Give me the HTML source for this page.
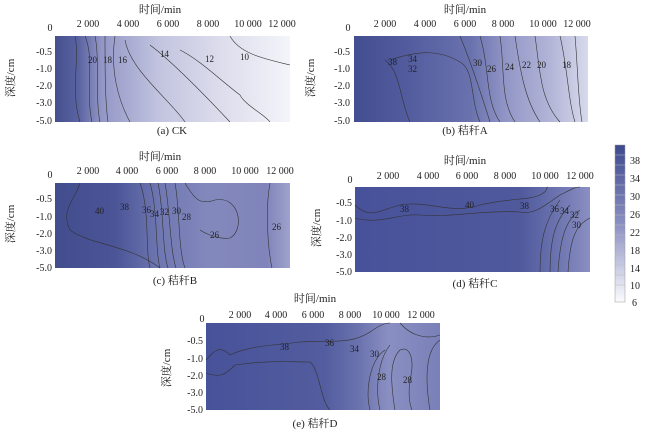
<!DOCTYPE html>
<html><head><meta charset="utf-8"><style>
body{margin:0;background:#fff}
svg{display:block}
text{font-family:"Liberation Serif","Noto Serif CJK SC",serif;fill:#222}
.t{font-size:10px}
.ti{font-size:11px}
.cl{fill:none;stroke:#333;stroke-width:0.6}
.lb{font-size:9px}
</style></head><body>
<svg width="650" height="433" viewBox="0 0 650 433">
<defs>
<linearGradient id="ga" x1="0" x2="1" y1="0" y2="0">
<stop offset="0" stop-color="#45508f"/><stop offset="0.1" stop-color="#5a63a2"/><stop offset="0.2" stop-color="#9397c6"/><stop offset="0.45" stop-color="#c3c5e0"/><stop offset="0.7" stop-color="#dcdcec"/><stop offset="1" stop-color="#f4f4fa"/></linearGradient>
<linearGradient id="gb" x1="0" x2="1" y1="0" y2="0">
<stop offset="0" stop-color="#434e90"/><stop offset="0.2" stop-color="#505a9c"/><stop offset="0.5" stop-color="#6a72ae"/><stop offset="0.65" stop-color="#9296c6"/><stop offset="0.85" stop-color="#b4b7d8"/><stop offset="1" stop-color="#d8d9ec"/></linearGradient>
<linearGradient id="gc" x1="0" x2="1" y1="0" y2="0">
<stop offset="0" stop-color="#424d8e"/><stop offset="0.25" stop-color="#4a5496"/><stop offset="0.45" stop-color="#7078b2"/><stop offset="0.65" stop-color="#8388bc"/><stop offset="0.9" stop-color="#8084ba"/><stop offset="1" stop-color="#9ea2cc"/></linearGradient>
<linearGradient id="gd" x1="0" x2="1" y1="0" y2="0">
<stop offset="0" stop-color="#48529a"/><stop offset="0.7" stop-color="#4f599c"/><stop offset="0.85" stop-color="#6a72ae"/><stop offset="1" stop-color="#8a8fc2"/></linearGradient>
<linearGradient id="ge" x1="0" x2="1" y1="0" y2="0">
<stop offset="0" stop-color="#48529a"/><stop offset="0.5" stop-color="#525c9e"/><stop offset="0.65" stop-color="#6a72ae"/><stop offset="0.78" stop-color="#8a8fc2"/><stop offset="1" stop-color="#7a80b8"/></linearGradient>
<linearGradient id="cb" x1="0" x2="0" y1="0" y2="1">
<stop offset="0" stop-color="#3e4a8e"/><stop offset="0.5" stop-color="#8a8fc2"/><stop offset="1" stop-color="#fbfbfe"/></linearGradient>
</defs>

<text class="ti" x="160" y="13" text-anchor="middle">时间/min</text>
<g class="t" text-anchor="middle"><text x="50" y="31">0</text><text x="88" y="27">2 000</text><text x="128" y="27">4 000</text><text x="168" y="27">6 000</text><text x="208" y="27">8 000</text><text x="248" y="27">10 000</text><text x="282" y="27">12 000</text></g>
<g class="t" text-anchor="end"><text x="52" y="55">-0.5</text><text x="52" y="72">-1.0</text><text x="52" y="89">-2.0</text><text x="52" y="106">-3.0</text><text x="52" y="124">-5.0</text></g>
<text class="ti" transform="translate(14,78) rotate(-90)" text-anchor="middle">深度/cm</text>
<rect x="55" y="36" width="235" height="86" fill="url(#ga)"/>
<g class="cl"><path d="M75 36 C80 60 70 90 80 122"/><path d="M85 36 C95 60 85 90 92 122"/><path d="M95 36 C100 60 95 100 100 122"/><path d="M105 36 C105 70 105 100 108 122"/><path d="M115 36 C110 70 118 100 130 122"/><path d="M125 40 C130 70 170 100 185 122"/><path d="M150 45 C170 60 200 90 230 122"/><path d="M180 50 C200 60 220 80 240 95 C245 105 265 115 270 122"/><path d="M230 36 C240 55 270 60 290 65"/></g>
<g class="lb"><text x="88" y="63">20</text><text x="103" y="63">18</text><text x="118" y="63">16</text><text x="160" y="57">14</text><text x="205" y="62">12</text><text x="240" y="60">10</text></g>
<text class="ti" x="172" y="134" text-anchor="middle">(a) CK</text>

<text class="ti" x="465" y="13" text-anchor="middle">时间/min</text>
<g class="t" text-anchor="middle"><text x="348" y="31">0</text><text x="385" y="27">2 000</text><text x="425" y="27">4 000</text><text x="465" y="27">6 000</text><text x="503" y="27">8 000</text><text x="543" y="27">10 000</text><text x="577" y="27">12 000</text></g>
<g class="t" text-anchor="end"><text x="350" y="55">-0.5</text><text x="350" y="72">-1.0</text><text x="350" y="89">-2.0</text><text x="350" y="106">-3.0</text><text x="350" y="124">-5.0</text></g>
<text class="ti" transform="translate(314,78) rotate(-90)" text-anchor="middle">深度/cm</text>
<rect x="354" y="36" width="234" height="86" fill="url(#gb)"/>
<g class="cl"><path d="M385 60 C400 70 400 100 410 122"/><path d="M390 60 C420 50 440 50 460 62 C475 70 470 100 480 122"/><path d="M460 36 C470 60 480 90 490 122"/><path d="M480 36 C490 70 485 100 500 122"/><path d="M500 36 C505 70 500 100 515 122"/><path d="M515 36 C520 70 525 100 540 122"/><path d="M535 36 C540 70 540 100 560 122"/><path d="M560 36 C568 70 568 100 575 122"/><path d="M575 36 C578 70 578 100 582 122"/></g>
<g class="lb"><text x="388" y="65">38</text><text x="408" y="62">34</text><text x="408" y="72">32</text><text x="473" y="66">30</text><text x="487" y="72">26</text><text x="505" y="70">24</text><text x="522" y="68">22</text><text x="537" y="68">20</text><text x="562" y="68">18</text></g>
<text class="ti" x="465" y="134" text-anchor="middle">(b) 秸秆A</text>

<text class="ti" x="160" y="160" text-anchor="middle">时间/min</text>
<g class="t" text-anchor="middle"><text x="50" y="178">0</text><text x="88" y="174">2 000</text><text x="127" y="174">4 000</text><text x="167" y="174">6 000</text><text x="205" y="174">8 000</text><text x="245" y="174">10 000</text><text x="280" y="174">12 000</text></g>
<g class="t" text-anchor="end"><text x="52" y="202">-0.5</text><text x="52" y="220">-1.0</text><text x="52" y="237">-2.0</text><text x="52" y="254">-3.0</text><text x="52" y="271">-5.0</text></g>
<text class="ti" transform="translate(14,224) rotate(-90)" text-anchor="middle">深度/cm</text>
<rect x="55" y="183" width="235" height="85" fill="url(#gc)"/>
<g class="cl"><path d="M80 183 C75 200 60 210 70 230 C90 245 130 245 160 268"/><path d="M140 183 C150 210 145 250 150 268"/><path d="M150 183 C158 210 155 250 160 268"/><path d="M158 183 C164 210 162 250 168 268"/><path d="M165 183 C170 210 170 250 176 268"/><path d="M175 183 C180 210 178 250 185 268"/><path d="M185 183 C195 200 200 205 215 200 C240 195 245 230 230 238 C215 240 200 230 200 230"/><path d="M270 183 C265 210 268 250 272 268"/></g>
<g class="lb"><text x="95" y="214">40</text><text x="120" y="210">38</text><text x="142" y="213">36</text><text x="150" y="217">34</text><text x="160" y="215">32</text><text x="172" y="214">30</text><text x="182" y="220">28</text><text x="210" y="238">26</text><text x="272" y="230">26</text></g>
<text class="ti" x="175" y="284" text-anchor="middle">(c) 秸秆B</text>

<text class="ti" x="465" y="164" text-anchor="middle">时间/min</text>
<g class="t" text-anchor="middle"><text x="350" y="183">0</text><text x="388" y="179">2 000</text><text x="428" y="179">4 000</text><text x="467" y="179">6 000</text><text x="505" y="179">8 000</text><text x="545" y="179">10 000</text><text x="580" y="179">12 000</text></g>
<g class="t" text-anchor="end"><text x="352" y="206">-0.5</text><text x="352" y="224">-1.0</text><text x="352" y="241">-2.0</text><text x="352" y="258">-3.0</text><text x="352" y="275">-5.0</text></g>
<text class="ti" transform="translate(320,228) rotate(-90)" text-anchor="middle">深度/cm</text>
<rect x="355" y="187" width="235" height="85" fill="url(#gd)"/>
<g class="cl"><path d="M355 205 C370 220 380 210 400 205 C430 200 450 215 480 205 C510 198 530 200 540 195 C550 190 545 187 548 187"/><path d="M355 218 C380 225 400 213 420 215 C450 218 480 210 520 212 C535 215 545 205 560 195 C570 190 575 187 580 187"/><path d="M540 272 C540 240 545 220 560 200"/><path d="M550 272 C550 240 555 220 570 205"/><path d="M558 272 C560 240 565 220 580 210"/><path d="M568 272 C570 240 575 225 590 218"/></g>
<g class="lb"><text x="400" y="212">38</text><text x="465" y="208">40</text><text x="520" y="209">38</text><text x="550" y="212">36</text><text x="560" y="214">34</text><text x="570" y="218">32</text><text x="572" y="228">30</text></g>
<text class="ti" x="475" y="287" text-anchor="middle">(d) 秸秆C</text>

<text class="ti" x="315" y="302" text-anchor="middle">时间/min</text>
<g class="t" text-anchor="middle"><text x="202" y="322">0</text><text x="240" y="318">2 000</text><text x="276" y="318">4 000</text><text x="313" y="318">6 000</text><text x="350" y="318">8 000</text><text x="386" y="318">10 000</text><text x="421" y="318">12 000</text></g>
<g class="t" text-anchor="end"><text x="203" y="344">-0.5</text><text x="203" y="362">-1.0</text><text x="203" y="379">-2.0</text><text x="203" y="396">-3.0</text><text x="203" y="413">-5.0</text></g>
<text class="ti" transform="translate(170,368) rotate(-90)" text-anchor="middle">深度/cm</text>
<rect x="206" y="323" width="234" height="87" fill="url(#ge)"/>
<g class="cl"><path d="M206 360 C215 350 220 345 230 355 C250 345 280 345 300 342 C330 340 350 345 370 332 C380 325 385 323 390 323"/><path d="M206 373 C220 378 225 375 235 365 C270 360 290 362 310 362 C320 370 320 400 330 410"/><path d="M370 410 C365 390 370 360 385 350"/><path d="M380 410 C375 390 378 360 390 345"/><path d="M395 410 C390 380 390 360 400 350 C410 345 415 360 410 380 C408 395 410 405 412 410"/><path d="M400 323 C410 335 425 340 440 335"/><path d="M430 410 C425 380 425 350 440 340"/></g>
<g class="lb"><text x="280" y="350">38</text><text x="325" y="346">36</text><text x="350" y="352">34</text><text x="370" y="357">30</text><text x="377" y="380">28</text><text x="403" y="383">28</text></g>
<text class="ti" x="315" y="427" text-anchor="middle">(e) 秸秆D</text>

<rect x="615" y="145" width="10" height="157" fill="url(#cb)" stroke="#999" stroke-width="0.5"/>
<g stroke="#bbb" stroke-width="0.5">
<line x1="615" y1="155" x2="625" y2="155"/><line x1="615" y1="165" x2="625" y2="165"/><line x1="615" y1="175" x2="625" y2="175"/><line x1="615" y1="185" x2="625" y2="185"/><line x1="615" y1="195" x2="625" y2="195"/><line x1="615" y1="205" x2="625" y2="205"/><line x1="615" y1="215" x2="625" y2="215"/><line x1="615" y1="225" x2="625" y2="225"/><line x1="615" y1="235" x2="625" y2="235"/><line x1="615" y1="245" x2="625" y2="245"/><line x1="615" y1="255" x2="625" y2="255"/><line x1="615" y1="265" x2="625" y2="265"/><line x1="615" y1="275" x2="625" y2="275"/><line x1="615" y1="285" x2="625" y2="285"/></g>
<g class="t"><text x="630" y="164">38</text><text x="630" y="182">34</text><text x="630" y="200">30</text><text x="630" y="218">26</text><text x="630" y="236">22</text><text x="630" y="254">18</text><text x="630" y="272">14</text><text x="630" y="289">10</text><text x="632" y="306">6</text></g>
</svg>
</body></html>
